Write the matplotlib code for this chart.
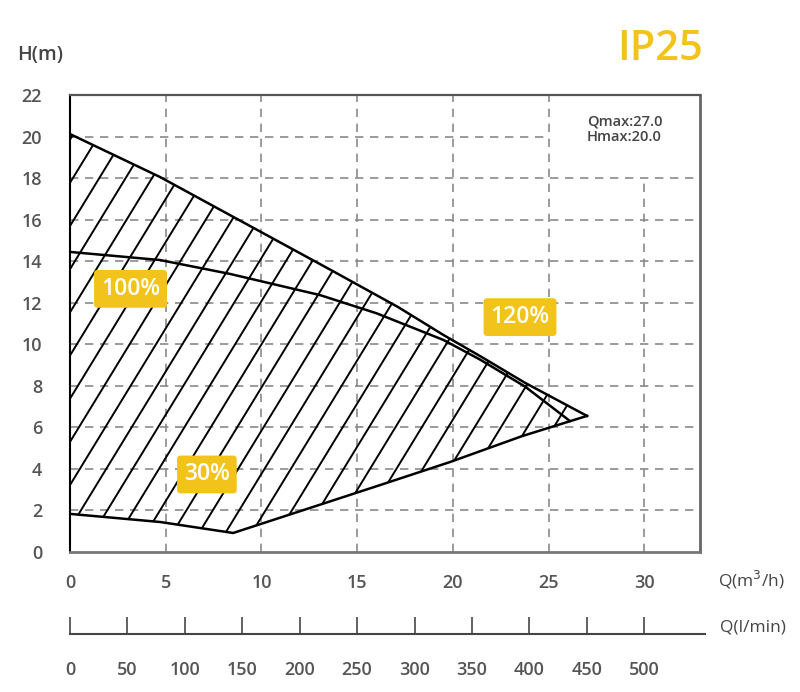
import numpy as np
import matplotlib
matplotlib.use("Agg")
import matplotlib.pyplot as plt
from matplotlib.patches import Polygon

# curve readings, Q in m3/h, H in m
q_top = [0, 4.7, 9.04, 13.76, 17.14, 19.5, 21.42, 23.77, 27.0]
h_top = [20.12, 18.05, 15.87, 13.5, 11.78, 10.44, 9.42, 8.13, 6.54]

q_mid = [0, 4.7, 8.36, 13.06, 16.02, 19.5, 21.42, 23.77, 26.1]
h_mid = [14.44, 14.05, 13.38, 12.36, 11.48, 10.2, 9.25, 7.95, 6.3]

q_low = [0, 4.7, 8.52, 12.38, 16.2, 19.85, 23.62, 27.0]
h_low = [1.82, 1.43, 0.90, 2.06, 3.21, 4.32, 5.57, 6.54]

x_ticks = [0, 5, 10, 15, 20, 25, 30]
y_ticks = [0, 2, 4, 6, 8, 10, 12, 14, 16, 18, 20, 22]
lmin_ticks = [0, 50, 100, 150, 200, 250, 300, 350, 400, 450, 500]

labels = ["100%", "120%", "30%"]
label_q = [3.16, 23.5, 7.15]
label_h = [12.66, 11.3, 3.72]

YELLOW = "#F2C41B"
TXT = "#555555"
XMAX = 32.9

plt.rcParams["font.family"] = ["Open Sans", "DejaVu Sans"]

fig = plt.figure(figsize=(8, 6.92), dpi=100)
ax = fig.add_axes([0.0875, 0.2028, 0.7875, 0.6599])
ax.set_xlim(0, XMAX)
ax.set_ylim(0, 22)

# grid (partial lines as in the original sheet)
for y in y_ticks[1:-1]:
    xe = 25 if y == 20 else XMAX
    ax.plot([0, xe], [y, y], color="#8a8a8a", lw=1.2, dashes=(5, 4), zorder=1)
for x in x_ticks[1:]:
    ye = 18 if x == 30 else 22
    ax.plot([x, x], [0, ye], color="#8a8a8a", lw=1.2, dashes=(5, 4), zorder=1)

# operating area, hatched with lines clipped to the outline
outline = list(zip(q_top, h_top)) + list(zip(q_low[::-1], h_low[::-1]))
poly = Polygon(outline, closed=True, fc="none", ec="none")
ax.add_patch(poly)
slope = 1.51
step = 2.08
c0 = 1.13
xs = np.array([0, XMAX])
for k in range(-20, 12):
    c = c0 + step * k
    ln, = ax.plot(xs, slope * xs + c, color="black", lw=1.4, zorder=2)
    ln.set_clip_path(poly)

ax.plot(q_top, h_top, color="black", lw=1.8, zorder=3)
ax.plot(q_mid, h_mid, color="black", lw=1.8, zorder=3)
ax.plot(q_low, h_low, color="black", lw=1.8, zorder=3)

for t, qx, hy in zip(labels, label_q, label_h):
    ax.text(qx, hy, t, ha="center", va="center", color="white", fontsize=16.5,
            fontweight="semibold", zorder=5,
            bbox=dict(boxstyle="round,pad=0.3,rounding_size=0.15", fc=YELLOW, ec="none"))

ax.text(0.8206, 0.958, "Qmax:27.0\nHmax:20.0", transform=ax.transAxes, fontsize=10.5,
        fontweight="semibold", color="#444444", va="top", ha="left", linespacing=1.15)

ax.set_xticks(x_ticks)
ax.set_yticks(y_ticks)
ax.tick_params(length=0, labelsize=13, labelcolor=TXT)
ax.tick_params(axis="x", pad=16)
ax.tick_params(axis="y", pad=20)
for lab in ax.get_xticklabels() + ax.get_yticklabels():
    lab.set_fontweight("semibold")

ax.spines["left"].set_color("black")
ax.spines["left"].set_linewidth(1.5)
ax.spines["top"].set_color("#555555")
ax.spines["top"].set_linewidth(1.6)
ax.spines["right"].set_color("#666666")
ax.spines["right"].set_linewidth(2)
ax.spines["bottom"].set_color("#777777")
ax.spines["bottom"].set_linewidth(2)

# second flow scale in l/min
ax2 = fig.add_axes([0.0875, 0.0834, 0.79375, 0.02])
ax2.set_xlim(0, (705 - 70) / 19.14 * 1000 / 60)
ax2.set_ylim(0, 1)
for s in ("top", "left", "right"):
    ax2.spines[s].set_visible(False)
ax2.spines["bottom"].set_color("#444444")
ax2.spines["bottom"].set_linewidth(1.5)
ax2.set_yticks([])
ax2.set_xticks(lmin_ticks)
ax2.tick_params(axis="x", direction="in", length=12, width=1.3, color="#555555",
                labelsize=13, labelcolor=TXT, pad=19)
for lab in ax2.get_xticklabels():
    lab.set_fontweight("semibold")
ax2.patch.set_visible(False)

fig.text(17 / 800, 1 - 55 / 692, "H(m)", fontsize=14, fontweight="semibold",
         color="#444444", va="center", ha="left")
fig.text(703 / 800, 1 - 49 / 692, "IP25", fontsize=30, color=YELLOW, va="center", ha="right",
         fontweight="semibold")
fig.text(718 / 800, 1 - 580 / 692, "Q(m$^3$/h)", fontsize=12.5, color="#444444",
         va="center", ha="left")
fig.text(720 / 800, 1 - 628 / 692, "Q(l/min)", fontsize=12.5, color="#444444",
         va="center", ha="left")

fig.savefig("out.png", dpi=100)
